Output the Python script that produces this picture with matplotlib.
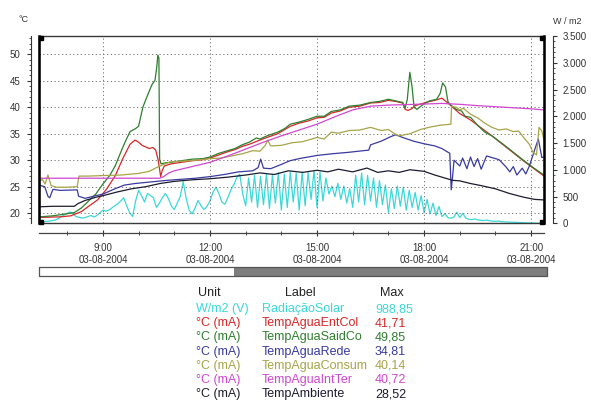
import numpy as np
import matplotlib.pyplot as plt
from matplotlib.patches import Rectangle
from matplotlib.ticker import MultipleLocator, FuncFormatter

plt.rcParams['font.family'] = ['Liberation Sans', 'DejaVu Sans']

# --- logger data, 03-08-2004 (time in decimal hours) -------------------------
# solar radiation, one reading every 5 minutes from 7:15
rad_v = [30, 35, 40, 45, 55, 65, 90, 130, 160,
         190, 215, 180, 130, 115, 100, 110, 130, 150, 120, 150, 200,
         250, 230, 250, 290, 330, 370, 420, 480, 330, 200, 130, 420,
         620, 520, 400, 560, 520, 480, 300, 380, 480, 560, 470, 330,
         260, 380, 500, 780, 470, 250, 180, 290, 430, 330, 260, 320,
         420, 580, 680, 560, 400, 360, 480, 620, 720, 860, 920, 560,
         330, 850, 400, 900, 300, 880, 350, 930, 280, 900, 380, 950,
         250, 920, 300, 960, 400, 940, 250, 960, 330, 950, 450, 988.85,
         300, 960, 420, 850, 550, 700, 500, 750, 450, 700, 380, 650,
         300, 900, 400, 940, 350, 900, 420, 850, 300, 800, 350, 720,
         200, 650, 280, 700, 320, 680, 250, 620, 300, 580, 250, 520,
         200, 450, 180, 380, 150, 320, 130, 180, 110, 100, 120, 210,
         110, 190, 100, 80, 70, 85, 70, 60, 55, 65, 50, 45,
         40, 45, 35, 30, 28, 25, 22, 20, 18, 15, 12, 10,
         8, 6, 5, 5, 5]
rad_t = 7.25 + np.arange(len(rad_v)) / 12

red_t = [7.21, 7.8, 8.1, 8.4, 8.6, 8.85, 9.1, 9.35, 9.55, 9.76,
         9.9, 10.0, 10.1, 10.2, 10.3, 10.4, 10.48, 10.55, 10.62, 10.66,
         10.72, 10.9, 11.2, 11.5, 11.8, 12.0, 12.25, 12.5, 12.7, 12.9,
         13.1, 13.4, 13.6, 13.9, 14.1, 14.25, 14.5, 14.75, 15.0, 15.2,
         15.4, 15.65, 15.9, 16.2, 16.5, 16.75, 17.0, 17.2, 17.4, 17.47,
         17.55, 17.65, 17.75, 17.9, 18.1, 18.3, 18.5, 18.65, 18.8, 19.0,
         19.3, 19.6, 19.9, 20.2, 20.5, 20.8, 21.1, 21.36]
red_v = [19.2, 19.3, 19.5, 20.3, 21.3, 22.5, 24.5, 27.1, 30.2, 33.0,
         33.8, 33.4, 32.8, 32.5, 32.2, 32.4, 31.9, 30.0, 26.9, 28.0,
         28.9, 29.3, 29.6, 29.9, 30.1, 30.4, 31.0, 31.6, 32.0, 32.6,
         33.0, 33.8, 34.3, 35.0, 35.8, 36.4, 37.0, 37.4, 38.0, 38.1,
         38.9, 39.3, 40.0, 40.2, 40.8, 40.9, 41.3, 41.1, 40.8, 39.6,
         39.4, 39.7, 40.3, 40.6, 41.0, 41.3, 41.71, 40.9, 40.0, 38.8,
         37.6, 36.1, 34.6, 33.0, 31.4, 29.8, 28.3, 27.0]

green_t = [7.21, 7.6, 8.0, 8.2, 8.4, 8.6, 8.8, 9.0, 9.2, 9.35,
           9.5, 9.62, 9.76, 9.9, 10.0, 10.12, 10.23, 10.37, 10.46, 10.51,
           10.54, 10.57, 10.59, 10.63, 10.75, 10.9, 11.2, 11.5, 11.8, 12.0,
           12.25, 12.5, 12.7, 12.9, 13.1, 13.3, 13.4, 13.6, 13.9, 14.1,
           14.25, 14.5, 14.75, 15.0, 15.2, 15.4, 15.65, 15.9, 16.2, 16.5,
           16.75, 17.0, 17.2, 17.4, 17.47, 17.53, 17.6, 17.66, 17.72, 17.8,
           17.95, 18.15, 18.35, 18.45, 18.52, 18.6, 18.67, 18.75, 18.9, 19.05,
           19.15, 19.3, 19.5, 19.7, 19.9, 20.2, 20.5, 20.8, 21.1, 21.36]
green_v = [19.3, 19.5, 19.9, 20.1, 21.0, 22.3, 23.6, 25.5, 27.2, 29.0,
           31.5, 33.4, 35.4, 35.9, 36.4, 40.0, 41.9, 44.2, 45.1, 47.6,
           49.85, 49.3, 30.2, 29.3, 29.5, 29.6, 29.9, 30.2, 30.3, 30.6,
           31.3, 31.8, 32.2, 32.9, 33.4, 34.2, 34.0, 34.6, 35.3, 36.0,
           36.8, 37.2, 37.7, 38.3, 38.3, 39.2, 39.5, 40.2, 40.4, 40.9,
           41.1, 41.5, 41.2, 40.9, 39.8, 41.5, 46.6, 44.0, 40.0, 39.6,
           40.4, 41.2, 41.5, 42.6, 44.6, 43.8, 41.0, 40.4, 39.6, 39.3,
           38.3, 38.1, 36.6, 35.3, 34.6, 33.1, 31.5, 29.9, 28.4, 27.2]

blue_t = [7.21, 7.37, 7.46, 7.51, 7.6, 7.8, 8.28, 8.32, 8.5, 8.8,
          9.0, 9.3, 9.6, 9.9, 10.2, 10.5, 10.8, 11.2, 11.6, 12.0,
          12.4, 12.8, 13.2, 13.35, 13.42, 13.5, 13.7, 14.0, 14.24, 14.5,
          15.0, 15.4, 15.9, 16.3, 16.45, 16.5, 16.8, 17.05, 17.2, 17.4,
          17.7, 18.0, 18.3, 18.5, 18.72, 18.76, 18.8, 18.84, 19.0, 19.08,
          19.2, 19.3, 19.4, 19.5, 19.6, 19.75, 19.9, 20.1, 20.3, 20.4,
          20.5, 20.6, 20.75, 20.85, 20.95, 21.1, 21.2, 21.3, 21.36]
blue_v = [25.3, 25.0, 23.2, 22.9, 24.5, 24.3, 24.4, 23.2, 22.8, 23.3,
          23.6, 24.5, 25.3, 25.6, 25.8, 26.0, 26.2, 26.4, 26.6, 26.9,
          27.3, 27.8, 28.0, 28.6, 30.2, 28.5, 28.4, 29.2, 29.9, 30.3,
          30.9, 31.2, 31.5, 31.8, 31.9, 32.9, 33.6, 34.4, 34.81, 34.3,
          33.6, 33.1, 32.7, 32.2, 31.3, 24.4, 27.0, 30.0, 28.9, 30.4,
          28.4, 30.6, 28.8, 30.3, 28.3, 30.8, 30.5, 30.1, 28.7, 27.8,
          28.8, 27.2, 28.5, 27.4, 28.9, 32.0, 34.0, 30.5, 30.6]

olive_t = [7.21, 7.3, 7.38, 7.46, 7.55, 7.7, 8.0, 8.28, 8.33, 8.6,
           9.0, 9.5, 10.0, 10.3, 10.5, 10.7, 10.9, 11.2, 11.6, 12.0,
           12.3, 12.6, 12.9, 13.2, 13.4, 13.55, 13.62, 13.7, 14.0, 14.3,
           14.6, 15.0, 15.2, 15.4, 15.6, 15.9, 16.2, 16.5, 16.8, 17.0,
           17.15, 17.3, 17.6, 17.9, 18.2, 18.45, 18.75, 18.77, 18.9, 19.0,
           19.1, 19.3, 19.5, 19.7, 19.9, 20.1, 20.3, 20.5, 20.65, 20.8,
           20.95, 21.05, 21.15, 21.22, 21.3, 21.36]
olive_v = [25.9, 26.4, 25.5, 27.2, 25.2, 24.9, 24.9, 25.0, 27.0, 27.0,
           27.1, 27.2, 27.5, 27.9, 28.6, 29.2, 29.7, 29.8, 30.0, 30.3,
           30.4, 30.8, 31.2, 31.8, 31.7, 32.8, 33.8, 32.7, 32.8, 33.3,
           33.5, 34.3, 34.0, 35.3, 35.1, 35.6, 35.7, 36.2, 35.6, 35.8,
           35.1, 34.6, 35.0, 35.8, 36.3, 36.6, 36.8, 40.14, 40.0, 39.5,
           39.8, 38.7, 38.0, 37.0, 36.2, 35.7, 35.9, 35.4, 35.5, 34.2,
           33.0, 31.5, 31.0, 36.2, 35.5, 33.8]

mag_t = [7.21, 10.6, 10.7, 10.85, 11.0, 11.5, 12.0, 12.5, 13.0, 13.5,
         14.0, 14.5, 15.0, 15.5, 16.0, 16.5, 17.0, 17.5, 18.0, 18.5,
         19.0, 19.5, 20.0, 20.5, 21.0, 21.36]
mag_v = [26.6, 26.6, 26.9, 27.6, 28.0, 28.8, 29.6, 30.8, 32.1, 33.4,
         34.6, 35.7, 36.8, 38.2, 39.5, 40.2, 40.4, 40.5, 40.6, 40.72,
         40.55, 40.3, 40.1, 39.9, 39.7, 39.5]

amb_t = [7.21, 7.6, 8.2, 8.3, 8.5, 8.8, 9.0, 9.4, 9.8, 10.2,
         10.6, 11.0, 11.5, 12.0, 12.5, 13.0, 13.4, 13.8, 14.2, 14.6,
         15.0, 15.3, 15.6, 16.0, 16.4, 16.7, 17.0, 17.3, 17.6, 18.0,
         18.3, 18.6, 18.8, 19.0, 19.3, 19.6, 20.0, 20.4, 20.8, 21.1, 21.36]
amb_v = [21.2, 21.3, 21.3, 21.8, 22.4, 23.0, 23.3, 24.0, 24.6, 25.0,
         25.6, 26.0, 26.3, 26.5, 26.8, 27.2, 27.6, 27.3, 28.0, 27.7,
         28.1, 27.8, 28.3, 27.8, 28.52, 27.7, 28.0, 27.7, 28.2, 27.9,
         27.2, 26.6, 26.2, 26.1, 25.6, 25.2, 24.6, 23.7, 23.0, 22.6, 22.5]

units = ['W/m2 (V)', '°C (mA)', '°C (mA)', '°C (mA)', '°C (mA)', '°C (mA)', '°C (mA)']
labels = ['RadiaçãoSolar', 'TempAguaEntCol', 'TempAguaSaidCo', 'TempAguaRede',
          'TempAguaConsum', 'TempAguaIntTer', 'TempAmbiente']
colors = ['#3cd8d8', '#d62828', '#2f7f2f', '#3a3aa0', '#a8a448', '#d048d0', '#1c1c30']

tick_hours = [9, 12, 15, 18, 21]
date_str = '03-08-2004'

# --- figure ------------------------------------------------------------------
fig = plt.figure(figsize=(5.91, 4.05), dpi=100)
W, H = 591, 405
ax = fig.add_axes([39 / W, 1 - 223.5 / H, 505 / W, 187.5 / H])
ax2 = ax.twinx()
ax.set_zorder(2)
ax2.set_zorder(1)
ax.patch.set_visible(False)

ax.set_xlim(7.21, 21.36)
ax.set_ylim(18.05, 53.45)
ax2.set_ylim(0, 3500)

lw = 0.9
ax2.plot(rad_t, rad_v, color=colors[0], lw=lw)
temps = [(red_t, red_v), (green_t, green_v), (blue_t, blue_v),
         (olive_t, olive_v), (mag_t, mag_v), (amb_t, amb_v)]
for (t, v), c in zip(temps, colors[1:]):
    ax.plot(t, v, color=c, lw=lw)

# grid
ax.grid(True, which='major', color='#666666', lw=0.6, linestyle=(0, (1.5, 3)))
ax.set_axisbelow(True)

# left axis
for s in ['top', 'right']:
    ax.spines[s].set_visible(False)
ax.spines['left'].set_position(('outward', 5.8))
ax.spines['left'].set_color('#333333')
ax.spines['left'].set_linewidth(0.8)
ax.spines['bottom'].set_position(('outward', 6.8))
ax.spines['bottom'].set_color('#444444')
ax.spines['bottom'].set_linewidth(0.9)
ax.yaxis.set_major_locator(MultipleLocator(5))
ax.yaxis.set_minor_locator(MultipleLocator(1))
ax.tick_params(axis='y', which='major', direction='out', length=3, width=0.8,
               pad=4.5, labelsize=7, colors='#333333')
ax.tick_params(axis='y', which='minor', direction='out', length=1.6, width=0.6,
               color='#333333')

# time axis
ax.set_xticks(tick_hours)
ax.set_xticklabels([f'{h}:00\n{date_str}' for h in tick_hours])
ax.set_xticks(range(8, 22), minor=True)
ax.tick_params(axis='x', which='major', direction='inout', length=4.5, width=0.8,
               pad=5, labelsize=7, colors='#333333')
ax.tick_params(axis='x', which='minor', direction='inout', length=3, width=0.7,
               color='#444444')
for t in ax.get_xticklabels():
    t.set_linespacing(1.3)

# right axis (W/m2)
for s in ['left', 'top', 'bottom']:
    ax2.spines[s].set_visible(False)
ax2.spines['right'].set_position(('outward', 6.5))
ax2.spines['right'].set_color('#333333')
ax2.spines['right'].set_linewidth(0.8)
ax2.yaxis.set_major_locator(MultipleLocator(500))
ax2.yaxis.set_minor_locator(MultipleLocator(100))
ax2.yaxis.set_major_formatter(FuncFormatter(lambda v, p: f'{v:,.0f}'.replace(',', '.')))
ax2.tick_params(axis='y', which='major', direction='out', length=3, width=0.8,
                pad=4, labelsize=7, colors='#333333')
ax2.tick_params(axis='y', which='minor', direction='out', length=1.6, width=0.6,
                color='#333333')

# plot frame, cursor edges and corner handles
ax.add_patch(Rectangle((0, 0), 1, 1, transform=ax.transAxes, fill=False,
                       ec='#3a3a3a', lw=1.0, clip_on=False, zorder=5))
for xe in (0, 1):
    ax.plot([xe, xe], [0, 1], transform=ax.transAxes, color='black', lw=1.8,
            clip_on=False, zorder=6)
ax.plot([0.004, 0.996, 0.004, 0.996], [0.99, 0.99, 0.01, 0.01], 's', ms=3,
        color='black', transform=ax.transAxes, clip_on=False, zorder=7)

fig.text(24 / W, 1 - 20 / H, '°C', fontsize=6.5, ha='center', va='center', color='#333333')
fig.text(567 / W, 1 - 21 / H, 'W / m2', fontsize=6.5, ha='center', va='center', color='#333333')

# scroll bar
sb = fig.add_axes([39 / W, 1 - 275.5 / H, 508 / W, 8.5 / H])
sb.set_axis_off()
sb.set_xlim(0, 1)
sb.set_ylim(0, 1)
sb.add_patch(Rectangle((0, 0), 0.384, 1, fc='white', ec='none'))
sb.add_patch(Rectangle((0.384, 0), 0.616, 1, fc='#7d7d7d', ec='none'))
sb.add_patch(Rectangle((0, 0), 1, 1, fill=False, ec='#555555', lw=0.9, clip_on=False))

# summary table
series = [rad_v, red_v, green_v, blue_v, olive_v, mag_v, amb_v]
hy = 1 - 293.5 / H
fig.text(198 / W, hy, 'Unit', fontsize=9, va='center', color='#222222')
fig.text(285 / W, hy, 'Label', fontsize=9, va='center', color='#222222')
fig.text(380 / W, hy, 'Max', fontsize=9, va='center', color='#222222')
for i, (u, lab, c, v) in enumerate(zip(units, labels, colors, series)):
    y = 1 - (309 + 14.2 * i) / H
    mx = f'{max(v):.2f}'.replace('.', ',')
    fig.text(196 / W, y, u, fontsize=9, va='center', color=c)
    fig.text(262 / W, y, lab, fontsize=9, va='center', color=c)
    fig.text(375 / W, y, mx, fontsize=9, va='center', color=c)

fig.savefig('out.png', dpi=100)
